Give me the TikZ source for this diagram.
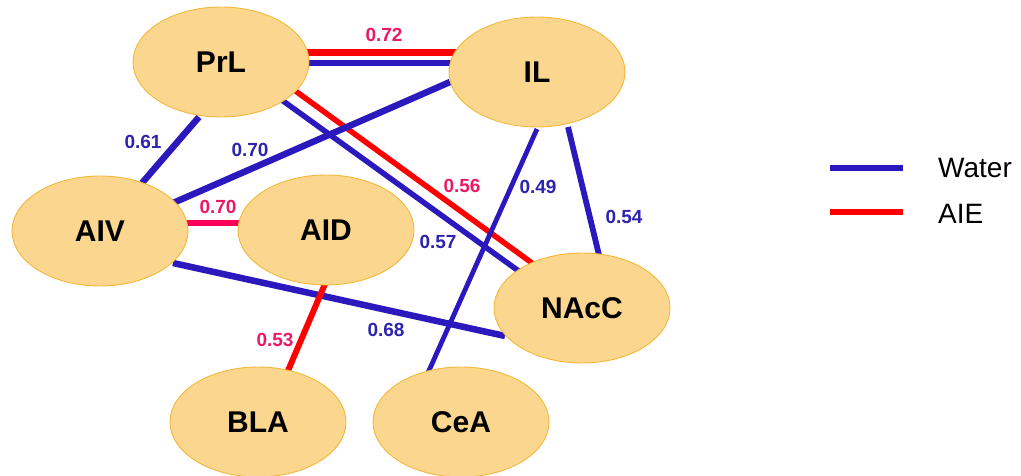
\documentclass[tikz,border=0pt]{standalone}
\usepackage{fontspec}
\setmainfont{Liberation Sans}
\usetikzlibrary{calc,backgrounds,shapes.geometric}

\definecolor{regionfill}{RGB}{251,214,143}
\definecolor{regionedge}{RGB}{242,184,60}
\definecolor{waterblue}{RGB}{43,25,190}
\definecolor{waterlabel}{RGB}{45,35,175}
\definecolor{aiered}{RGB}{255,0,0}
\definecolor{aiepink}{RGB}{248,0,88}
\definecolor{aielabel}{RGB}{235,25,100}

\tikzset{
  region/.style={ellipse, fill=regionfill, draw=regionedge, line width=0.9pt,
    minimum width=176pt, minimum height=110pt, inner sep=0pt,
    font=\fontsize{30}{30}\selectfont\bfseries},
  wline/.style={draw=waterblue, line width=#1},
  rline/.style={draw=aiered, line width=#1},
  pline/.style={draw=aiepink, line width=#1},
  wlab/.style={text=waterlabel, font=\fontsize{19}{19}\selectfont\bfseries, inner sep=0pt},
  rlab/.style={text=aielabel, font=\fontsize{19}{19}\selectfont\bfseries, inner sep=0pt},
  legendtext/.style={anchor=west, font=\fontsize{28}{28}\selectfont, inner sep=0pt},
}

\begin{document}
\begin{tikzpicture}[x=1pt,y=-1pt]
\useasboundingbox (0,0) rectangle (1021,476);

% brain regions
\node[region] (PrL)  at (221,62)  {PrL};
\node[region] (IL)   at (537,72)  {IL};
\node[region] (AIV)  at (100,231) {AIV};
\node[region] (AID)  at (326,230) {AID};
\node[region] (NAcC) at (582,308) {NAcC};
\node[region] (BLA)  at (258,422) {BLA};
\node[region] (CeA)  at (461,422) {CeA};

% correlations, drawn under the regions
\begin{scope}[on background layer]
  \draw[rline=7pt]   ($(PrL)+(85,-9)$)  -- ($(IL)+(-80,-19)$);
  \draw[wline=6.5pt] ($(PrL)+(85,1)$)   -- ($(IL)+(-80,-9)$);
  \draw[rline=5.5pt] ($(PrL)+(69,25)$)  -- ($(NAcC)+(-50,-45)$);
  \draw[wline=5.5pt] ($(PrL)+(58,36)$)  -- ($(NAcC)+(-62,-36)$);
  \draw[wline=6.5pt] ($(PrL)+(-22,55)$) -- ($(AIV)+(42,-48)$);
  \draw[wline=6.5pt] ($(IL)+(-87,10)$)  -- ($(AIV)+(73,-28)$);
  \draw[pline=6pt]   ($(AIV)+(86,-8)$)  -- ($(AID)+(-86,-7)$);
  \draw[wline=6.5pt] ($(AIV)+(73,32)$)  -- ($(NAcC)+(-77,28)$);
  \draw[rline=6pt]   ($(AID)+(-1,54)$)  -- ($(BLA)+(29,-49)$);
  \draw[wline=4.8pt] ($(IL)+(0,57)$)    -- ($(CeA)+(-34,-47)$);
  \draw[wline=5.8pt] ($(IL)+(31,55)$)   -- ($(NAcC)+(17,-53)$);
\end{scope}

% coefficients
\node[rlab] (c072)  at (384,35)  {0.72};
\node[wlab] (c061)  at (143,142) {0.61};
\node[wlab] (c070w) at (250,150) {0.70};
\node[rlab] (c070a) at (218,207) {0.70};
\node[rlab] (c056)  at (462,186) {0.56};
\node[wlab] (c049)  at (538,187) {0.49};
\node[wlab] (c054)  at (624,217) {0.54};
\node[wlab] (c057)  at (438,242) {0.57};
\node[wlab] (c068)  at (386,330) {0.68};
\node[rlab] (c053)  at (275,340) {0.53};

% legend
\coordinate (waterA) at (830,168);
\coordinate (waterB) at (903,168);
\coordinate (aieA)   at (830,212);
\coordinate (aieB)   at (903,212);
\draw[wline=6.5pt] (waterA) -- (waterB);
\draw[rline=6.5pt] (aieA) -- (aieB);
\node[legendtext] (waterkey) at (938,168) {Water};
\node[legendtext] (aiekey)   at (938,214) {AIE};
\end{tikzpicture}
\end{document}
